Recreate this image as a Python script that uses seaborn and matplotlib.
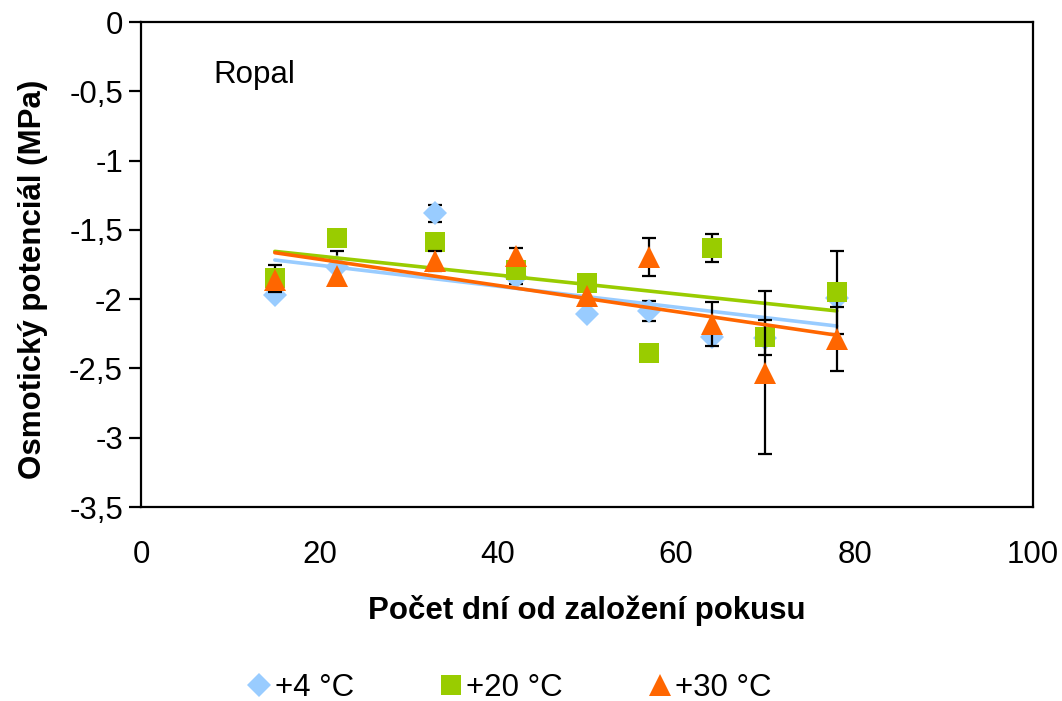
import numpy as np
import pandas as pd
import matplotlib
matplotlib.use("Agg")
import matplotlib.pyplot as plt
import seaborn as sns
from matplotlib.lines import Line2D

# Days since the start of the experiment
days = [15, 22, 33, 42, 50, 57, 64, 70, 78]

# Osmotic potential (MPa) per storage temperature
psi_4 = [-1.97, -1.77, -1.38, -1.84, -2.11, -2.085, -2.27, -2.28, -1.99]
psi_20 = [-1.85, -1.56, -1.59, -1.79, -1.88, -2.39, -1.63, -2.275, -1.95]
psi_30 = [-1.86, -1.83, -1.725, -1.69, -1.98, -1.695, -2.18, -2.53, -2.29]

# Standard deviations (0 = no bar shown)
sd_4 = [0.0, 0.12, 0.06, 0.05, 0.0, 0.075, 0.0, 0.0, 0.0]
sd_20 = [0.10, 0.0, 0.0, 0.0, 0.0, 0.0, 0.10, 0.125, 0.30]
sd_30 = [0.0, 0.0, 0.075, 0.06, 0.0, 0.135, 0.16, 0.59, 0.23]

labels = ["+4 °C", "+20 °C", "+30 °C"]
colors = ["#99CCFF", "#99CC00", "#FF6600"]
markers = ["D", "s", "^"]
msizes = [12.5, 14, 15.5]

x_ticks = [0, 20, 40, 60, 80, 100]
y_ticks = [0, -0.5, -1, -1.5, -2, -2.5, -3, -3.5]
y_tick_labels = ["0", "-0,5", "-1", "-1,5", "-2", "-2,5", "-3", "-3,5"]

sns.set_style("white")
plt.rcParams["font.family"] = ["Liberation Sans", "DejaVu Sans"]
plt.rcParams["text.color"] = "black"
plt.rcParams["axes.labelcolor"] = "black"
plt.rcParams["xtick.color"] = "black"
plt.rcParams["ytick.color"] = "black"

fig = plt.figure(figsize=(10.62, 7.01), dpi=100)
ax = fig.add_axes([0.1328, 0.2767, 0.8399, 0.6919])

series = [(psi_4, sd_4), (psi_20, sd_20), (psi_30, sd_30)]
for i, ((vals, sds), lab, col, mk, ms) in enumerate(zip(series, labels, colors, markers, msizes)):
    df = pd.DataFrame({"day": days, "psi": vals, "sd": sds})
    # error bars first, drawn underneath the markers
    bars = df[df["sd"] > 0]
    ax.errorbar(bars["day"], bars["psi"], yerr=bars["sd"], fmt="none",
                ecolor="black", elinewidth=1.6, capsize=5, capthick=1.6,
                zorder=2 + i * 3)
    # linear trend line across the sampled range
    sns.regplot(data=df, x="day", y="psi", ax=ax, scatter=False, ci=None,
                truncate=True, color=col, line_kws={"lw": 2.6, "zorder": 3 + i * 3})
    ax.plot(df["day"], df["psi"], linestyle="none", marker=mk, ms=ms,
            color=col, markeredgewidth=0, zorder=4 + i * 3)

ax.set_xlim(0, 100)
ax.set_ylim(-3.5, 0)
ax.set_xticks(x_ticks)
ax.set_xticklabels([str(t) for t in x_ticks], fontsize=22.5)
ax.set_yticks(y_ticks)
ax.set_yticklabels(y_tick_labels, fontsize=22.5)
ax.tick_params(axis="y", which="major", direction="out", length=9, width=1.6,
               color="black", left=True, pad=4)
ax.tick_params(axis="x", which="major", length=0, pad=24)

for side in ["left", "right", "top", "bottom"]:
    ax.spines[side].set_visible(True)
    ax.spines[side].set_color("black")
    ax.spines[side].set_linewidth(1.6)

ax.set_xlabel("Počet dní od založení pokusu", fontsize=22.5, fontweight="bold", labelpad=18)
ax.set_ylabel("Osmotický potenciál (MPa)", fontsize=22.5, fontweight="bold", labelpad=10)
ax.yaxis.set_label_coords(-0.104, 0.47)

ax.text(8.1, -0.44, "Ropal", fontsize=22.5, ha="left", va="baseline")

handles = [Line2D([], [], linestyle="none", marker=mk, ms=ms, color=col,
                  markeredgewidth=0)
           for mk, ms, col in zip(markers, msizes, colors)]
fig.legend(handles, labels, loc="center", bbox_to_anchor=(0.481, 0.019), ncol=3,
           frameon=False, fontsize=22.5, handlelength=0.6, handletextpad=0.2,
           columnspacing=2.8)

fig.savefig("out.png", dpi=100, facecolor="white")
